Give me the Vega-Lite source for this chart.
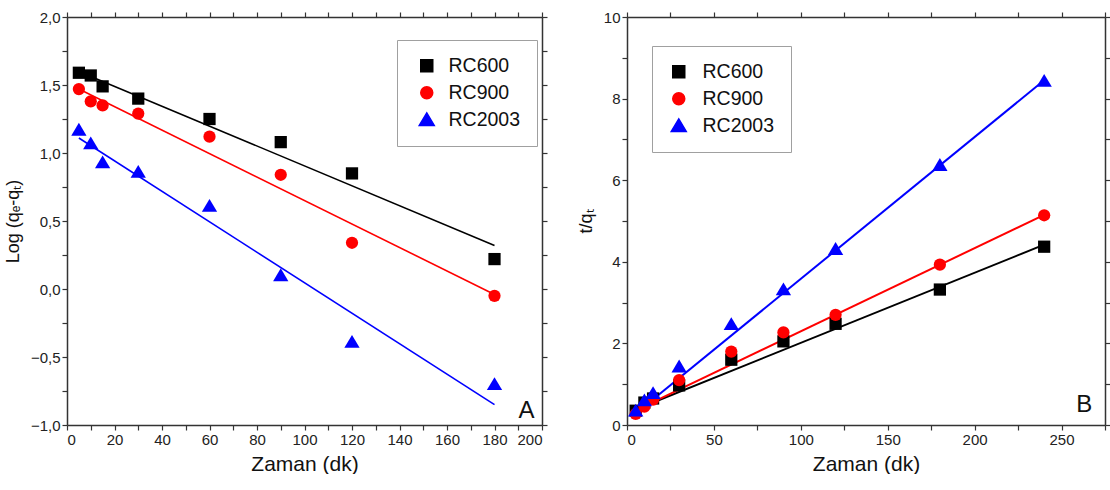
{
  "$schema": "https://vega.github.io/schema/vega-lite/v6.json",
  "padding": {"left": 4, "top": 10, "right": 2, "bottom": 0},
  "background": "white",
  "spacing": 29,
  "resolve": {"scale": {"color": "independent", "shape": "independent"}, "legend": {"color": "independent", "shape": "independent"}},
  "config": {
    "font": "Liberation Sans",
    "view": {"stroke": null},
    "axis": {
      "grid": false,
      "domainColor": "#333333",
      "domainWidth": 1.5,
      "tickColor": "#333333",
      "tickWidth": 1.2,
      "tickSize": 5,
      "labelColor": "#222222",
      "labelFont": "Liberation Sans",
      "labelFontSize": 15,
      "titleFont": "Liberation Sans",
      "titleFontSize": 21,
      "titleFontWeight": "normal",
      "titleColor": "#111111"
    },
    "legend": {
      "labelFont": "Liberation Sans",
      "labelFontSize": 19.5,
      "labelColor": "#111111"
    }
  },
  "datasets": {
    "ptsA": [
      {"series": "RC600", "t": 5, "v": 1.59},
      {"series": "RC600", "t": 10, "v": 1.57},
      {"series": "RC600", "t": 15, "v": 1.49},
      {"series": "RC600", "t": 30, "v": 1.40},
      {"series": "RC600", "t": 60, "v": 1.25},
      {"series": "RC600", "t": 90, "v": 1.08},
      {"series": "RC600", "t": 120, "v": 0.85},
      {"series": "RC600", "t": 180, "v": 0.22},
      {"series": "RC900", "t": 5, "v": 1.47},
      {"series": "RC900", "t": 10, "v": 1.38},
      {"series": "RC900", "t": 15, "v": 1.35},
      {"series": "RC900", "t": 30, "v": 1.29},
      {"series": "RC900", "t": 60, "v": 1.12},
      {"series": "RC900", "t": 90, "v": 0.84},
      {"series": "RC900", "t": 120, "v": 0.34},
      {"series": "RC900", "t": 180, "v": -0.05},
      {"series": "RC2003", "t": 5, "v": 1.17},
      {"series": "RC2003", "t": 10, "v": 1.07},
      {"series": "RC2003", "t": 15, "v": 0.93},
      {"series": "RC2003", "t": 30, "v": 0.86},
      {"series": "RC2003", "t": 60, "v": 0.61},
      {"series": "RC2003", "t": 90, "v": 0.10},
      {"series": "RC2003", "t": 120, "v": -0.39},
      {"series": "RC2003", "t": 180, "v": -0.70}
    ],
    "fitA": [
      {"series": "RC600", "t": 5, "v": 1.60},
      {"series": "RC600", "t": 180, "v": 0.32},
      {"series": "RC900", "t": 5, "v": 1.47},
      {"series": "RC900", "t": 180, "v": -0.04},
      {"series": "RC2003", "t": 5, "v": 1.11},
      {"series": "RC2003", "t": 180, "v": -0.85}
    ],
    "ptsB": [
      {"series": "RC600", "t": 5, "v": 0.35},
      {"series": "RC600", "t": 10, "v": 0.55},
      {"series": "RC600", "t": 15, "v": 0.65},
      {"series": "RC600", "t": 30, "v": 0.97},
      {"series": "RC600", "t": 60, "v": 1.60},
      {"series": "RC600", "t": 90, "v": 2.05},
      {"series": "RC600", "t": 120, "v": 2.48},
      {"series": "RC600", "t": 180, "v": 3.32},
      {"series": "RC600", "t": 240, "v": 4.37},
      {"series": "RC900", "t": 5, "v": 0.27},
      {"series": "RC900", "t": 10, "v": 0.45},
      {"series": "RC900", "t": 15, "v": 0.62},
      {"series": "RC900", "t": 30, "v": 1.10},
      {"series": "RC900", "t": 60, "v": 1.80},
      {"series": "RC900", "t": 90, "v": 2.27},
      {"series": "RC900", "t": 120, "v": 2.70},
      {"series": "RC900", "t": 180, "v": 3.93},
      {"series": "RC900", "t": 240, "v": 5.14},
      {"series": "RC2003", "t": 5, "v": 0.35},
      {"series": "RC2003", "t": 10, "v": 0.60},
      {"series": "RC2003", "t": 15, "v": 0.78},
      {"series": "RC2003", "t": 30, "v": 1.43},
      {"series": "RC2003", "t": 60, "v": 2.47},
      {"series": "RC2003", "t": 90, "v": 3.32},
      {"series": "RC2003", "t": 120, "v": 4.31},
      {"series": "RC2003", "t": 180, "v": 6.37},
      {"series": "RC2003", "t": 240, "v": 8.43}
    ],
    "fitB": [
      {"series": "RC600", "t": 5, "v": 0.38},
      {"series": "RC600", "t": 240, "v": 4.42},
      {"series": "RC900", "t": 5, "v": 0.36},
      {"series": "RC900", "t": 240, "v": 5.15},
      {"series": "RC2003", "t": 5, "v": 0.28},
      {"series": "RC2003", "t": 240, "v": 8.45}
    ],
    "labA": [{"t": 193.5, "v": -0.9, "txt": "A"}],
    "labB": [{"t": 263, "v": 0.5, "txt": "B"}]
  },
  "hconcat": [
    {
      "width": 475,
      "height": 408,
      "layer": [
        {
          "data": {"name": "fitA"},
          "mark": {"type": "line", "strokeWidth": 1.6},
          "encoding": {
            "x": {"field": "t", "type": "quantitative", "scale": {"domain": [0, 200], "nice": false},
              "axis": {"orient": "top", "values": [0,10,20,30,40,50,60,70,80,90,100,110,120,130,140,150,160,170,180,190,200], "labels": false, "title": null}},
            "y": {"field": "v", "type": "quantitative", "scale": {"domain": [-1, 2], "nice": false, "zero": false},
              "axis": {"orient": "right", "values": [-1,-0.75,-0.5,-0.25,0,0.25,0.5,0.75,1,1.25,1.5,1.75,2], "labels": false, "title": null}},
            "color": {"field": "series", "type": "nominal", "scale": {"domain": ["RC600", "RC900", "RC2003"], "range": ["#000000", "#ff0000", "#0000ff"]}},
            "detail": {"field": "series"}
          }
        },
        {
          "data": {"name": "ptsA"},
          "mark": {"type": "point", "filled": true, "opacity": 1, "size": 150},
          "encoding": {
            "x": {"field": "t", "type": "quantitative",
              "axis": {"orient": "bottom", "values": [0,10,20,30,40,50,60,70,80,90,100,110,120,130,140,150,160,170,180,190,200], "labelExpr": "datum.value % 20 === 0 ? datum.label : ''", "title": "Zaman (dk)", "titlePadding": 6}},
            "y": {"field": "v", "type": "quantitative",
              "axis": {"orient": "left", "values": [-1,-0.75,-0.5,-0.25,0,0.25,0.5,0.75,1,1.25,1.5,1.75,2], "labelExpr": "abs(datum.value*4) % 2 === 0 ? replace(format(datum.value, '.1f'), '.', ',') : ''", "title": "Log (qₑ-qₜ)", "titleFontSize": 18, "titlePadding": 8}},
            "color": {"field": "series", "type": "nominal", "scale": {"domain": ["RC600", "RC900", "RC2003"], "range": ["#000000", "#ff0000", "#0000ff"]},
              "legend": {
                "title": null, "orient": "none", "legendX": 330, "legendY": 23,
                "fillColor": "white", "strokeColor": "#a0a0a0", "padding": 16,
                "symbolSize": 144, "rowPadding": 6, "labelOffset": 12, "symbolOffset": 4,
                "encode": {"legend": {"strokeWidth": {"value": 2}}}
              }},
            "shape": {"field": "series", "type": "nominal", "scale": {"domain": ["RC600", "RC900", "RC2003"], "range": ["square", "circle", "M0,-1.15L1.25,0.95H-1.25Z"]}, "legend": null}
          }
        },
        {
          "data": {"name": "labA"},
          "mark": {"type": "text", "fontSize": 24, "font": "Liberation Sans", "color": "#111111", "align": "center", "baseline": "middle"},
          "encoding": {
            "x": {"field": "t", "type": "quantitative", "axis": null},
            "y": {"field": "v", "type": "quantitative", "axis": null},
            "text": {"field": "txt"}
          }
        }
      ],
      "resolve": {"axis": {"x": "independent", "y": "independent"}}
    },
    {
      "width": 478,
      "height": 408,
      "layer": [
        {
          "data": {"name": "fitB"},
          "mark": {"type": "line", "strokeWidth": 2},
          "encoding": {
            "x": {"field": "t", "type": "quantitative", "scale": {"domain": [0, 275], "nice": false},
              "axis": {"orient": "top", "values": [0,25,50,75,100,125,150,175,200,225,250,275], "labels": false, "title": null}},
            "y": {"field": "v", "type": "quantitative", "scale": {"domain": [0, 10], "nice": false},
              "axis": {"orient": "right", "values": [0,1,2,3,4,5,6,7,8,9,10], "labels": false, "title": null}},
            "color": {"field": "series", "type": "nominal", "scale": {"domain": ["RC600", "RC900", "RC2003"], "range": ["#000000", "#ff0000", "#0000ff"]}},
            "detail": {"field": "series"}
          }
        },
        {
          "data": {"name": "ptsB"},
          "mark": {"type": "point", "filled": true, "opacity": 1, "size": 150},
          "encoding": {
            "x": {"field": "t", "type": "quantitative",
              "axis": {"orient": "bottom", "values": [0,25,50,75,100,125,150,175,200,225,250,275], "labelExpr": "datum.value % 50 === 0 ? datum.label : ''", "title": "Zaman (dk)", "titlePadding": 6}},
            "y": {"field": "v", "type": "quantitative",
              "axis": {"orient": "left", "values": [0,1,2,3,4,5,6,7,8,9,10], "labelExpr": "datum.value % 2 === 0 ? datum.label : ''", "title": "t/qₜ", "titleFontSize": 18, "titlePadding": 8}},
            "color": {"field": "series", "type": "nominal", "scale": {"domain": ["RC600", "RC900", "RC2003"], "range": ["#000000", "#ff0000", "#0000ff"]},
              "legend": {
                "title": null, "orient": "none", "legendX": 25, "legendY": 29,
                "fillColor": "white", "strokeColor": "#a0a0a0", "padding": 16,
                "symbolSize": 144, "rowPadding": 6, "labelOffset": 14, "symbolOffset": 1,
                "encode": {"legend": {"strokeWidth": {"value": 2}}}
              }},
            "shape": {"field": "series", "type": "nominal", "scale": {"domain": ["RC600", "RC900", "RC2003"], "range": ["square", "circle", "M0,-1.15L1.25,0.95H-1.25Z"]}, "legend": null}
          }
        },
        {
          "data": {"name": "labB"},
          "mark": {"type": "text", "fontSize": 24, "font": "Liberation Sans", "color": "#111111", "align": "center", "baseline": "middle"},
          "encoding": {
            "x": {"field": "t", "type": "quantitative", "axis": null},
            "y": {"field": "v", "type": "quantitative", "axis": null},
            "text": {"field": "txt"}
          }
        }
      ],
      "resolve": {"axis": {"x": "independent", "y": "independent"}}
    }
  ]
}
